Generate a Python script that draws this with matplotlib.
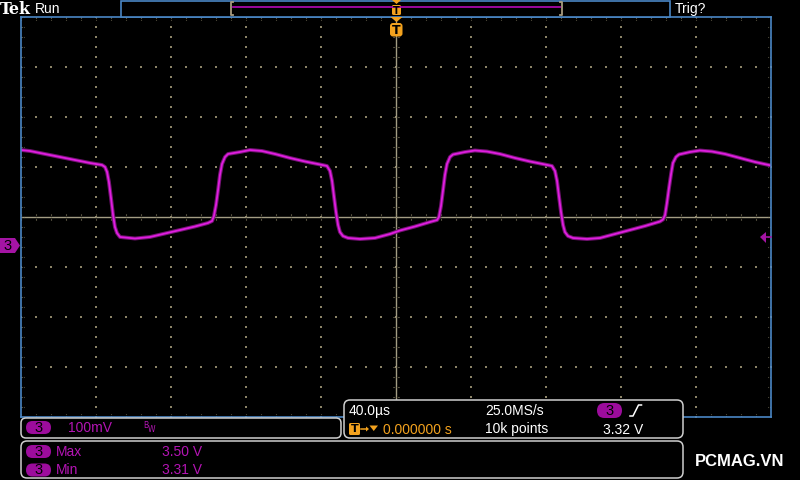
import numpy as np
import matplotlib.pyplot as plt
from matplotlib.patches import FancyBboxPatch, Polygon, Rectangle
from matplotlib.collections import LineCollection

# channel 3 trace: time in us, level in volts
trace_t = [-200.0, -195.2, -187.2, -179.2, -171.2, -163.2, -156.8, -155.2, -154.1, -153.1,
           -152.0, -150.9, -149.9, -148.8, -147.2, -139.2, -131.2, -123.2, -115.2, -107.2,
           -100.3, -98.1, -97.1, -96.0, -94.9, -93.9, -92.8, -91.2, -89.6, -83.2,
           -77.9, -71.5, -64.5, -56.5, -48.5, -40.5, -36.8, -35.2, -34.1, -33.1,
           -32.0, -30.9, -29.9, -28.3, -25.6, -19.2, -11.2, -3.2, 2.1, 10.1,
           18.1, 21.9, 22.9, 24.0, 25.1, 26.1, 27.2, 28.8, 30.4, 36.8,
           42.1, 48.5, 55.5, 63.5, 71.5, 79.5, 83.2, 84.8, 85.9, 86.9,
           88.0, 89.1, 90.1, 91.7, 94.4, 101.9, 108.8, 116.8, 124.8, 132.8,
           140.8, 142.4, 143.5, 144.5, 145.6, 146.7, 147.7, 149.3, 150.9, 156.8,
           162.1, 168.5, 175.5, 183.5, 191.5, 200.0]
trace_v = [3.494, 3.492, 3.486, 3.480, 3.474, 3.468, 3.464, 3.460, 3.450, 3.430,
           3.398, 3.364, 3.340, 3.328, 3.320, 3.317, 3.320, 3.327, 3.334, 3.341,
           3.348, 3.352, 3.362, 3.384, 3.414, 3.444, 3.466, 3.480, 3.486, 3.490,
           3.494, 3.492, 3.486, 3.478, 3.471, 3.465, 3.462, 3.452, 3.432, 3.402,
           3.370, 3.344, 3.330, 3.322, 3.318, 3.316, 3.318, 3.326, 3.333, 3.341,
           3.350, 3.354, 3.360, 3.382, 3.414, 3.444, 3.466, 3.480, 3.485, 3.490,
           3.493, 3.491, 3.486, 3.478, 3.471, 3.465, 3.462, 3.452, 3.432, 3.402,
           3.370, 3.344, 3.330, 3.322, 3.318, 3.316, 3.318, 3.326, 3.334, 3.342,
           3.351, 3.355, 3.364, 3.388, 3.418, 3.446, 3.468, 3.480, 3.485, 3.490,
           3.493, 3.491, 3.486, 3.478, 3.470, 3.463]

t_per_div = 40.0     # us / div
v_per_div = 0.1      # V / div
v_center = 3.36
trig_level = 3.32

scale_label = "100mV"
timebase_label = "40.0\u00b5s"
sample_rate = "25.0MS/s"
record_len = "10k points"
trig_pos = "0.000000 s"
trig_label = "3.32 V"
meas_names = ["Max", "Min"]
meas_vals = ["3.50 V", "3.31 V"]

BLUE = "#4a86c4"
TAN = "#a39d84"
DOT = "#8c8468"
MAG = "#e01ee0"
PILL = "#9c0c9c"
MTXT = "#b414b4"
ORANGE = "#f3a21e"
FONT = ["Liberation Sans", "DejaVu Sans"]

fig = plt.figure(figsize=(8, 4.8), dpi=100, facecolor="black")

# ---- graticule ----
ax = fig.add_axes([21 / 800, 1 - 417 / 480, 750 / 800, 400 / 480])
ax.set_facecolor("black")
ax.set_zorder(1)
t0, t1 = -5 * t_per_div, 5 * t_per_div
v0, v1 = v_center - 4 * v_per_div, v_center + 4 * v_per_div
ax.set_xlim(t0, t1)
ax.set_ylim(v0, v1)
ax.set_xticks([])
ax.set_yticks([])
for s in ax.spines.values():
    s.set_color(BLUE)
    s.set_linewidth(1.2)

t_major = np.linspace(t0, t1, 11)
v_major = np.linspace(v0, v1, 9)
t_minor = np.linspace(t0, t1, 51)
v_minor = np.linspace(v0, v1, 41)

dots = []
for t in t_major[1:-1]:
    if abs(t) < 1e-9:
        continue
    dots += [(t, v) for v in v_minor]
for v in v_major[1:-1]:
    if abs(v - v_center) < 1e-9:
        continue
    dots += [(t, v) for t in t_minor]
dots = np.array(dots)
ax.scatter(dots[:, 0], dots[:, 1], s=0.8, marker="s", color=DOT, linewidths=0)

ax.axhline(v_center, color=TAN, lw=1.0)
ax.axvline(0, color=TAN, lw=1.0)

px_t = t_per_div / 75.0
px_v = v_per_div / 50.0
segs = []
for t in t_minor:
    segs.append([(t, v_center - 3 * px_v), (t, v_center + 3 * px_v)])
    segs.append([(t, v1), (t, v1 - 3 * px_v)])
    segs.append([(t, v0), (t, v0 + 3 * px_v)])
for v in v_minor:
    segs.append([(-3 * px_t, v), (3 * px_t, v)])
    segs.append([(t0, v), (t0 + 3 * px_t, v)])
    segs.append([(t1, v), (t1 - 3 * px_t, v)])
ax.add_collection(LineCollection(segs, colors=DOT, linewidths=0.8, linestyles=(0, (1, 1.2))))

# trace (noise band + bright core)
ax.plot(trace_t, trace_v, color="#741274", lw=2.8, solid_joinstyle="round")
ax.plot(trace_t, trace_v, color=MAG, lw=1.3, solid_joinstyle="round")

# ---- screen furniture in pixel coordinates ----
ov = fig.add_axes([0, 0, 1, 1])
ov.set_zorder(2)
ov.set_xlim(0, 800)
ov.set_ylim(480, 0)
ov.axis("off")
ov.patch.set_alpha(0)


def panel(x0, y0, x1, y1, r=6):
    ov.add_patch(FancyBboxPatch((x0 + r, y0 + r), x1 - x0 - 2 * r, y1 - y0 - 2 * r,
                                boxstyle=f"round,pad={r}", fc="black", ec="#cfcfcf", lw=1.1))


def pill(x0, y0, x1, y1, label="3"):
    h = y1 - y0
    ov.add_patch(FancyBboxPatch((x0, y0), x1 - x0, h,
                                boxstyle=f"round,pad=0,rounding_size={h / 2}",
                                fc=PILL, ec="none"))
    ov.text((x0 + x1) / 2, (y0 + y1) / 2 + 0.5, label, color="black", fontsize=10.5,
            ha="center", va="center", family=FONT)


def txt(x, y, s, color="white", size=10, **kw):
    ov.text(x, y, s, color=color, fontsize=size, ha="left", va="center", family=FONT, **kw)


# top bar
ov.text(0, 9, "Tek", color="white", fontsize=11.5, weight="bold", family="DejaVu Serif",
        ha="left", va="center")
txt(35, 9, "Run")
txt(675, 8.5, "Trig?")
ov.add_patch(Rectangle((121, 0.5), 549, 16, fc="black", ec=BLUE, lw=1.2))
ov.plot([233, 560], [7, 7], color="#a808a8", lw=1.3)
ov.plot([233, 231, 231, 233], [2, 2, 15, 15], color="#a89c80", lw=1.3)
ov.plot([560, 562, 562, 560], [2, 2, 15, 15], color="#a89c80", lw=1.3)

# trigger position markers
ov.add_patch(Polygon([(392, 0), (401, 0), (396.5, 4)], fc=ORANGE, ec="none"))
ov.add_patch(FancyBboxPatch((392, 5), 9, 10, boxstyle="round,pad=0,rounding_size=1.5",
                            fc=ORANGE, ec="none"))
ov.text(396.5, 10.5, "T", color="black", fontsize=7, weight="bold", ha="center", va="center")
ov.add_patch(Polygon([(390.5, 17), (402.5, 17), (396.5, 22)], fc=ORANGE, ec="none"))
ov.add_patch(FancyBboxPatch((390, 23), 12.5, 13.5, boxstyle="round,pad=0,rounding_size=3",
                            fc=ORANGE, ec="none"))
ov.text(396.3, 30.5, "T", color="black", fontsize=9, weight="bold", ha="center", va="center")

# channel 3 ground marker and trigger level arrow
ov.add_patch(Polygon([(0, 238), (15, 238), (20, 245.5), (15, 253), (0, 253)], fc="#a414a4", ec="none"))
ov.text(8, 246, "3", color="black", fontsize=10.5, ha="center", va="center", family=FONT)
ov.add_patch(Polygon([(760, 237), (766, 232), (766, 243)], fc="#a414a4", ec="none"))
ov.plot([764, 771], [237, 237], color="#a414a4", lw=1.2)

# bottom panels
panel(21, 418, 341, 438, r=5)
pill(26, 421, 51, 434)
txt(68, 428, scale_label, color=MTXT)
ov.text(143.5, 425.5, "B", color=MTXT, fontsize=5.5, ha="left", va="center")
ov.text(147.5, 430, "W", color=MTXT, fontsize=5.5, ha="left", va="center")

panel(344, 400, 683, 438, r=6)
txt(349, 411, timebase_label)
txt(485, 411, sample_rate)
pill(597, 403, 622, 418)
ov.plot([630, 633, 638.5, 641.5], [416, 416, 405, 405], color="white", lw=1.1)
ov.add_patch(FancyBboxPatch((349, 423), 11, 12, boxstyle="round,pad=0,rounding_size=1.5",
                            fc=ORANGE, ec="none"))
ov.text(354.5, 429.5, "T", color="black", fontsize=8, weight="bold", ha="center", va="center")
ov.plot([361, 367], [429, 429], color=ORANGE, lw=1.1)
ov.add_patch(Polygon([(366, 426.5), (369, 429), (366, 431.5)], fc=ORANGE, ec="none"))
ov.add_patch(Polygon([(369.5, 425.5), (378, 425.5), (373.75, 431)], fc=ORANGE, ec="none"))
txt(383, 429.5, trig_pos, color=ORANGE)
txt(485, 429.5, record_len)
txt(603, 429.5, trig_label)

panel(21, 441, 683, 478, r=6)
for i, (name, val) in enumerate(zip(meas_names, meas_vals)):
    yc = 451.5 + i * 18.5
    pill(26, yc - 6.5, 51, yc + 6.5)
    txt(56, yc, name, color=MTXT)
    txt(162, yc, val, color=MTXT)

ov.text(695, 461, "PCMAG.VN", color="white", fontsize=12, weight="bold",
        ha="left", va="center", family=FONT)

fig.savefig("out.png", dpi=100, facecolor="black")
